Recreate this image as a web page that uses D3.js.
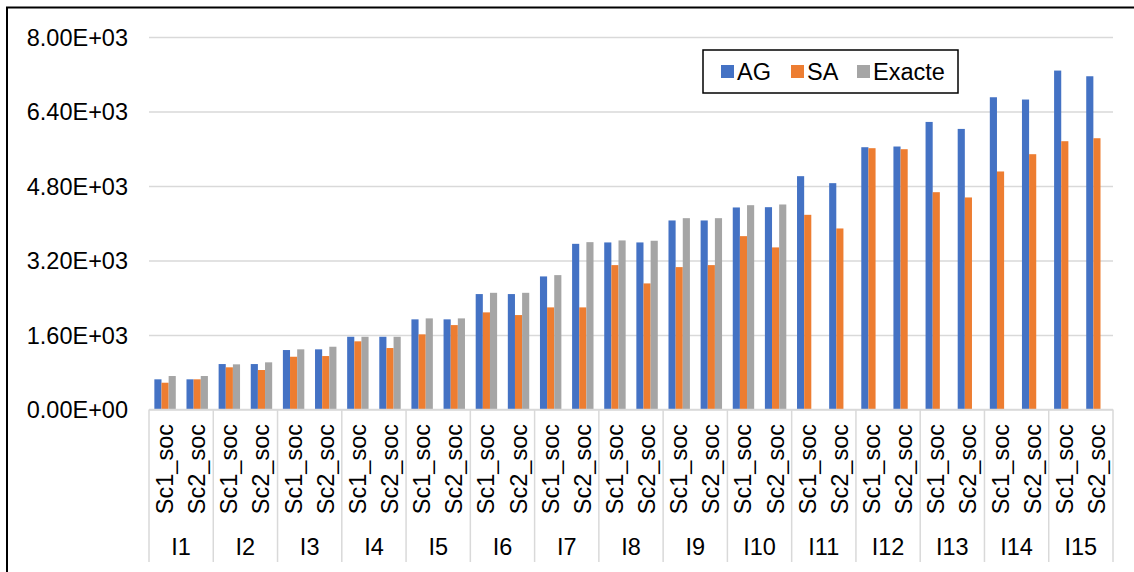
<!DOCTYPE html>
<html>
<head>
<meta charset="UTF-8">
<title>AG / SA / Exacte</title>
<script src="https://cdn.jsdelivr.net/npm/d3@7"></script>
<style>
  body { margin: 0; background: #fff; }
  svg { display: block; font-family: "Liberation Sans", Arial, sans-serif; }
</style>
</head>
<body>
<div class="container"></div>
<script>
// instances and scenarios (two scenarios per instance)
var groups = ["I1","I2","I3","I4","I5","I6","I7","I8","I9","I10","I11","I12","I13","I14","I15"];
var scenarios = ["Sc1_soc", "Sc2_soc"];
var series = ["AG", "SA", "Exacte"];

// values, in order I1 Sc1, I1 Sc2, I2 Sc1, ...
var agValues = [648, 648, 976, 976, 1277, 1292, 1562, 1562, 1936, 1936,
                2479, 2479, 2858, 3558, 3588, 3588, 4060, 4060, 4339, 4345,
                5011, 4861, 5633, 5648, 6176, 6026, 6706, 6657, 7279, 7157];
var saValues = [575, 648, 906, 848, 1133, 1148, 1464, 1320, 1614, 1813,
                2086, 2028, 2193, 2193, 3101, 2708, 3058, 3101, 3723, 3481,
                4181, 3888, 5612, 5590, 4667, 4554, 5112, 5483, 5762, 5826];
var exacteValues = [719, 719, 970, 1013, 1292, 1348, 1562, 1562, 1957, 1957,
                    2506, 2506, 2886, 3594, 3631, 3624, 4109, 4109, 4388, 4403,
                    null, null, null, null, null, null, null, null, null, null];
var yTicks = [0, 1600, 3200, 4800, 6400, 8000];

var width = 1134, height = 572;
var plotLeft = 149, plotRight = 1113, plotTop = 37, plotBottom = 409.5;
var fontSize = 23.5;

var colors = d3.scaleOrdinal().domain(series).range(["#4472C4", "#ED7D31", "#A5A5A5"]);

// one row per (instance, scenario)
var rows = [];
groups.forEach(function (g, gi) {
    scenarios.forEach(function (s, si) {
        var i = gi * scenarios.length + si;
        rows.push({ key: i, group: g, scenario: s,
                    AG: agValues[i], SA: saValues[i], Exacte: exacteValues[i] });
    });
});

var x0 = d3.scaleBand().domain(rows.map(function (d) { return d.key; }))
    .range([plotLeft, plotRight]).padding(0);
// excel gap width 150% -> 0.75 bar of space on each side
var x1 = d3.scaleBand().domain(series).range([0, x0.bandwidth()])
    .paddingInner(0).paddingOuter(0.75);
var xg = d3.scaleBand().domain(groups).range([plotLeft, plotRight]).padding(0);
var y = d3.scaleLinear().domain([0, 8000]).range([plotBottom, plotTop]);

function sci(v) {
    if (v === 0) return "0.00E+00";
    var e = Math.floor(Math.log10(Math.abs(v)));
    var m = v / Math.pow(10, e);
    return m.toFixed(2) + "E" + (e < 0 ? "-" : "+") + String(Math.abs(e)).padStart(2, "0");
}

var svg = d3.select(".container").append("svg")
    .attr("width", width).attr("height", height);

// outer frame (cut off on the right and bottom)
svg.append("rect")
    .attr("x", 7).attr("y", 7.5).attr("width", 1300).attr("height", 800)
    .attr("fill", "none").attr("stroke", "#000").attr("stroke-width", 2);

// y axis with gridlines
var yAxis = svg.append("g")
    .attr("transform", "translate(" + plotLeft + ",0)")
    .call(d3.axisLeft(y).tickValues(yTicks).tickFormat(sci)
        .tickSizeInner(-(plotRight - plotLeft)).tickSizeOuter(0).tickPadding(21));
yAxis.select(".domain").remove();
yAxis.selectAll(".tick line").attr("stroke", "#d9d9d9").attr("stroke-width", 1.5);
yAxis.selectAll(".tick text")
    .attr("font-family", "Liberation Sans, Arial, sans-serif")
    .attr("font-size", fontSize).attr("fill", "#000").attr("dy", "0.34em");

// bars
var cat = svg.append("g").selectAll("g.cat")
    .data(rows).enter().append("g")
    .attr("class", "cat")
    .attr("transform", function (d) { return "translate(" + x0(d.key) + ",0)"; });

cat.selectAll("rect")
    .data(function (d) {
        return series.filter(function (s) { return d[s] != null; })
            .map(function (s) { return { name: s, value: d[s] }; });
    })
    .enter().append("rect")
    .attr("x", function (d) { return x1(d.name); })
    .attr("width", x1.bandwidth())
    .attr("y", function (d) { return y(d.value); })
    .attr("height", function (d) { return y(0) - y(d.value); })
    .attr("fill", function (d) { return colors(d.name); });

// category axis line and group separators
svg.append("line")
    .attr("x1", plotLeft).attr("x2", plotRight).attr("y1", plotBottom).attr("y2", plotBottom)
    .attr("stroke", "#d9d9d9").attr("stroke-width", 1.5);

svg.append("g").selectAll("line")
    .data(groups.concat(["end"]))
    .enter().append("line")
    .attr("x1", function (d, i) { return plotLeft + i * xg.bandwidth(); })
    .attr("x2", function (d, i) { return plotLeft + i * xg.bandwidth(); })
    .attr("y1", plotBottom).attr("y2", 562)
    .attr("stroke", "#d9d9d9").attr("stroke-width", 1.5);

// scenario labels, rotated
svg.append("g").selectAll("text")
    .data(rows).enter().append("text")
    .attr("transform", function (d) {
        return "translate(" + (x0(d.key) + x0.bandwidth() / 2) + ",424) rotate(-90)";
    })
    .attr("text-anchor", "end")
    .attr("dy", "0.34em")
    .attr("font-size", fontSize)
    .attr("fill", "#000")
    .text(function (d) { return d.scenario; });

// instance labels
svg.append("g").selectAll("text")
    .data(groups).enter().append("text")
    .attr("x", function (d) { return xg(d) + xg.bandwidth() / 2; })
    .attr("y", 555)
    .attr("text-anchor", "middle")
    .attr("font-size", fontSize)
    .attr("fill", "#000")
    .text(function (d) { return d; });

// legend
var legend = svg.append("g");
legend.append("rect")
    .attr("x", 703).attr("y", 50).attr("width", 255).attr("height", 43)
    .attr("fill", "#fff").attr("stroke", "#000").attr("stroke-width", 1.5);

var legendX = [721, 791, 857];
var item = legend.selectAll("g.item")
    .data(series).enter().append("g")
    .attr("class", "item")
    .attr("transform", function (d, i) { return "translate(" + legendX[i] + ",65)"; });
item.append("rect")
    .attr("width", 13).attr("height", 13)
    .attr("fill", function (d) { return colors(d); });
item.append("text")
    .attr("x", 16).attr("y", 14.5)
    .attr("font-size", fontSize)
    .attr("fill", "#000")
    .text(function (d) { return d; });
</script>
</body>
</html>
